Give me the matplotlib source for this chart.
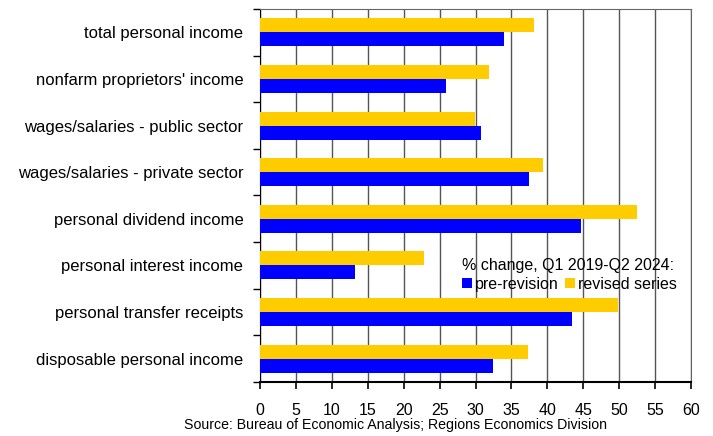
import numpy as np
import matplotlib.pyplot as plt

plt.rcParams['font.family'] = ['Liberation Sans', 'DejaVu Sans']

categories = ['total personal income', "nonfarm proprietors' income",
              'wages/salaries - public sector', 'wages/salaries - private sector',
              'personal dividend income', 'personal interest income',
              'personal transfer receipts', 'disposable personal income']
pre_revision = [33.9, 25.9, 30.7, 37.4, 44.7, 13.2, 43.5, 32.5]
revised = [38.2, 31.9, 29.9, 39.4, 52.5, 22.8, 49.9, 37.3]
xticks = list(range(0, 61, 5))

fig = plt.figure(figsize=(7.13, 4.36), dpi=100)
ax = fig.add_axes([260/713, 1 - 382/436, 431/713, 373/436])

y = np.arange(len(categories))
h = 0.3
ax.barh(y - h/2, revised, height=h, color='#ffcc00', label='revised series', zorder=3)
ax.barh(y + h/2, pre_revision, height=h, color='#0000ff', label='pre-revision', zorder=3)

ax.set_ylim(len(categories) - 0.5, -0.5)
ax.set_xlim(0, 60)
ax.set_xticks(xticks)
ax.set_yticks(y)
ax.set_yticklabels(categories, fontsize=12)
ax.set_yticks(np.arange(len(categories) + 1) - 0.5, minor=True)
ax.tick_params(axis='y', which='major', length=0, pad=12)
ax.tick_params(axis='y', which='minor', length=5, direction='out', width=1)
ax.tick_params(axis='x', length=5, direction='out', labelsize=11.5, pad=10, width=1.2)
ax.xaxis.grid(True, color='#555555', linewidth=1, zorder=0)
for s in ['top', 'right']:
    ax.spines[s].set_color('#666666')
ax.spines['bottom'].set_linewidth(1.5)

handles, labels = ax.get_legend_handles_labels()
leg = ax.legend(handles[::-1], labels[::-1], title='% change, Q1 2019-Q2 2024:',
                ncol=2, frameon=False, fontsize=11.5, title_fontsize=11.5,
                loc='upper left', bbox_to_anchor=(0.451, 0.353),
                handlelength=0.6, handleheight=0.6, handletextpad=0.2,
                columnspacing=0.4, borderpad=0, labelspacing=0.2,
                alignment='left')
leg.set_zorder(5)

fig.text(396/713, 1 - 425/436, 'Source: Bureau of Economic Analysis; Regions Economics Division',
         ha='center', va='center', fontsize=10.2)

fig.savefig('out.png', dpi=100)
